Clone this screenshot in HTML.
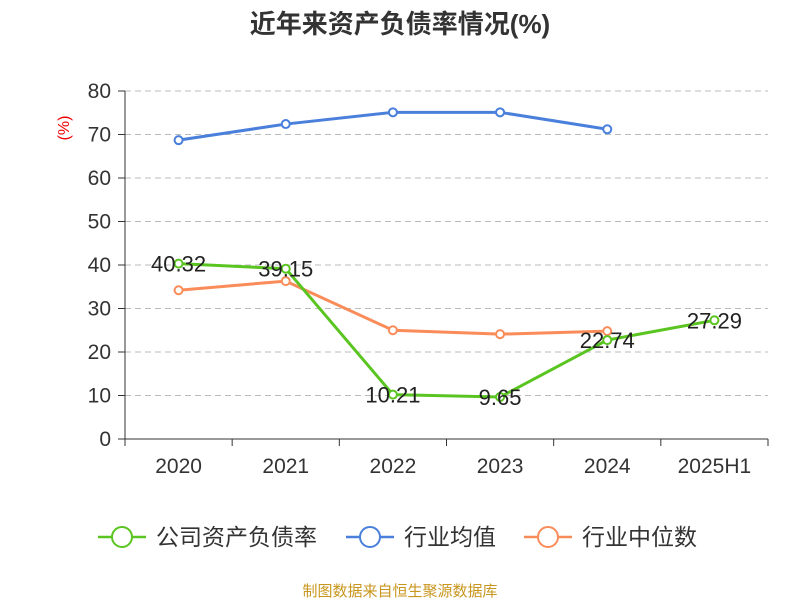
<!DOCTYPE html>
<html><head><meta charset="utf-8"><style>
body{margin:0;background:#fff;font-family:"Liberation Sans","Noto Sans CJK SC",sans-serif}
</style></head><body>
<svg id="c" width="800" height="600" xmlns="http://www.w3.org/2000/svg" style="display:block">
<text x="400" y="33" text-anchor="middle" font-size="26" font-weight="bold" fill="#333" font-family="Liberation Sans,Noto Sans CJK SC,sans-serif">近年来资产负债率情况(%)</text>
<text x="69" y="128" font-size="16" fill="#e00" transform="rotate(-90 69 128)" text-anchor="middle" font-family="Liberation Sans,sans-serif">(%)</text>
<g id="grid"></g><g id="axes"></g><g id="series"></g>
<g font-size="23" fill="#333" font-family="Liberation Sans,Noto Sans CJK SC,sans-serif">
<g><line x1="98" y1="537" x2="146" y2="537" stroke="#5ac521" stroke-width="2.5"/><circle cx="122" cy="537" r="10" fill="#fff" stroke="#5ac521" stroke-width="2"/><text x="156" y="545">公司资产负债率</text></g>
<g><line x1="346" y1="537" x2="394" y2="537" stroke="#4a80dc" stroke-width="2.5"/><circle cx="370" cy="537" r="10" fill="#fff" stroke="#4a80dc" stroke-width="2"/><text x="404" y="545">行业均值</text></g>
<g><line x1="524" y1="537" x2="572" y2="537" stroke="#fa8c5a" stroke-width="2.5"/><circle cx="548" cy="537" r="10" fill="#fff" stroke="#fa8c5a" stroke-width="2"/><text x="582" y="545">行业中位数</text></g>
</g>
<text x="400" y="596" text-anchor="middle" font-size="15" fill="#c8961e" font-family="Liberation Sans,Noto Sans CJK SC,sans-serif">制图数据来自恒生聚源数据库</text>
</svg>
<script>
const categories=["2020","2021","2022","2023","2024","2025H1"];
const companyValues=[40.32,39.15,10.21,9.65,22.74,27.29];
const industryAvg=[68.7,72.4,75.1,75.1,71.2];
const industryMedian=[34.2,36.3,25.0,24.1,24.8];
const yTicks=[0,10,20,30,40,50,60,70,80];
const NS="http://www.w3.org/2000/svg";
const x0=125,x1=768,yb=439,yt=91,yMax=80;
const bw=(x1-x0)/categories.length;
const X=i=>x0+bw*(i+0.5);
const Y=v=>yb-(v/yMax)*(yb-yt);
function mk(tag,at,parent){const e=document.createElementNS(NS,tag);for(const k in at)e.setAttribute(k,at[k]);document.getElementById(parent).appendChild(e);return e;}
yTicks.forEach(t=>{
 if(t>0){const l=mk('line',{x1:x0,x2:x1,y1:Y(t),y2:Y(t),stroke:'#bbb','stroke-dasharray':'6,4'},'grid');
 
 }
 const tk=mk('line',{x1:x0-7,x2:x0,y1:Y(t),y2:Y(t),stroke:'#333'},'axes');
 
 
 const tx=mk('text',{x:x0-14,y:Y(t)+7,'text-anchor':'end','font-size':21,fill:'#333','font-family':'Liberation Sans,sans-serif'},'axes');
 tx.textContent=t;
 
 
});
const ya=mk('line',{x1:x0,x2:x0,y1:yt,y2:yb,stroke:'#333'},'axes');


const xa=mk('line',{x1:x0,x2:x1,y1:yb,y2:yb,stroke:'#333'},'axes');


for(let i=0;i<=categories.length;i++){
 const tk=mk('line',{x1:x0+bw*i,x2:x0+bw*i,y1:yb,y2:yb+7,stroke:'#333'},'axes');
 
 
}
categories.forEach((c,i)=>{
 const t=mk('text',{x:X(i),y:473,'text-anchor':'middle','font-size':21,fill:'#333','font-family':'Liberation Sans,sans-serif'},'axes');
 t.textContent=c;
 
 
});
function series(vals,color,name,labels){
 const p=mk('polyline',{points:vals.map((v,i)=>X(i)+','+Y(v)).join(' '),fill:'none',stroke:color,'stroke-width':3},'series');
 
 
 vals.forEach((v,i)=>{
  const c=mk('circle',{cx:X(i),cy:Y(v),r:4,fill:'#fff',stroke:color,'stroke-width':2},'series');
  
  
  if(labels){const t=mk('text',{x:X(i),y:Y(v)+8,'text-anchor':'middle','font-size':22,fill:'#222','font-family':'Liberation Sans,sans-serif'},'series');
  t.textContent=v.toFixed(2);
  
  }
 });
}
series(industryAvg,'#4a80dc','industry-avg',false);
series(industryMedian,'#fa8c5a','industry-median',false);
series(companyValues,'#5ac521','company',true);
</script>
</body></html>
